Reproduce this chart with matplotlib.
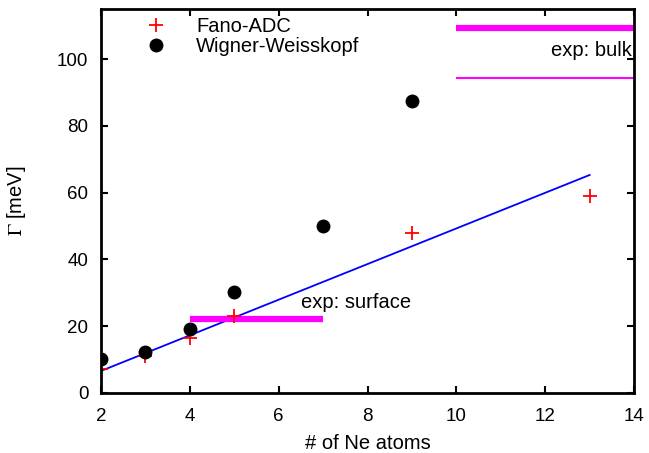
import numpy as np
import matplotlib.pyplot as plt

plt.rcParams["font.family"] = ["Liberation Sans", "DejaVu Sans"]
plt.rcParams["mathtext.fontset"] = "stix"

# Fano-ADC widths
fano_n = [2, 3, 4, 5, 9, 13]
fano_g = [7.2, 11.0, 16.5, 23.0, 48.0, 59.0]

# Wigner-Weisskopf widths
ww_n = [2, 3, 4, 5, 7, 9]
ww_g = [10.2, 12.3, 19.2, 30.2, 50.0, 87.4]

# linear fit line (end points)
fit_n = [2, 13]
fit_g = [6.6, 65.3]

# experimental values
surf_n = [4, 7]
surf_g = 22.2
bulk_n = [10, 14]
bulk_hi = 109.3
bulk_lo = 94.3

FS = 14.5
TFS = 13.5

fig = plt.figure(figsize=(6.49, 4.53), dpi=100)
ax = fig.add_axes([0.1556, 0.1325, 0.8214, 0.8475])

ax.plot(fit_n, fit_g, color="#0000ff", lw=1.3)
ax.plot(surf_n, [surf_g, surf_g], color="#ff00ff", lw=4.5, solid_capstyle="butt")
ax.plot(bulk_n, [bulk_hi, bulk_hi], color="#ff00ff", lw=4.5, solid_capstyle="butt")
ax.plot(bulk_n, [bulk_lo, bulk_lo], color="#ff00ff", lw=1.5, solid_capstyle="butt")

ax.plot(fano_n, fano_g, "+", color="#ff0000", ms=10, mew=1.3, ls="none", label="Fano-ADC")
ax.plot(ww_n, ww_g, "o", color="black", ms=9, ls="none", label="Wigner-Weisskopf")

ax.text(6.5, 27, "exp: surface", fontsize=FS, va="center")
ax.text(13.95, 102.7, "exp: bulk", fontsize=FS, ha="right", va="center")

ax.set_xlim(2, 14)
ax.set_ylim(0, 115)
ax.set_xticks(np.arange(2, 15, 2))
ax.set_yticks(np.arange(0, 101, 20))
ax.tick_params(direction="in", top=True, right=True, length=5, width=1.5,
               labelsize=TFS)
ax.tick_params(axis="x", pad=10.5)
ax.tick_params(axis="y", pad=9)
for s in ax.spines.values():
    s.set_linewidth(2)

ax.set_xlabel("# of Ne atoms", fontsize=FS, labelpad=6.5)
ax.set_ylabel(r"$\Gamma$ [meV]", fontsize=FS, labelpad=21)

ax.legend(loc="upper left", bbox_to_anchor=(0.0837, 0.98), frameon=False, fontsize=FS,
          handlelength=1.0, handletextpad=1.5, labelspacing=0.05,
          borderaxespad=0, borderpad=0)

fig.savefig("out.png", dpi=100)
